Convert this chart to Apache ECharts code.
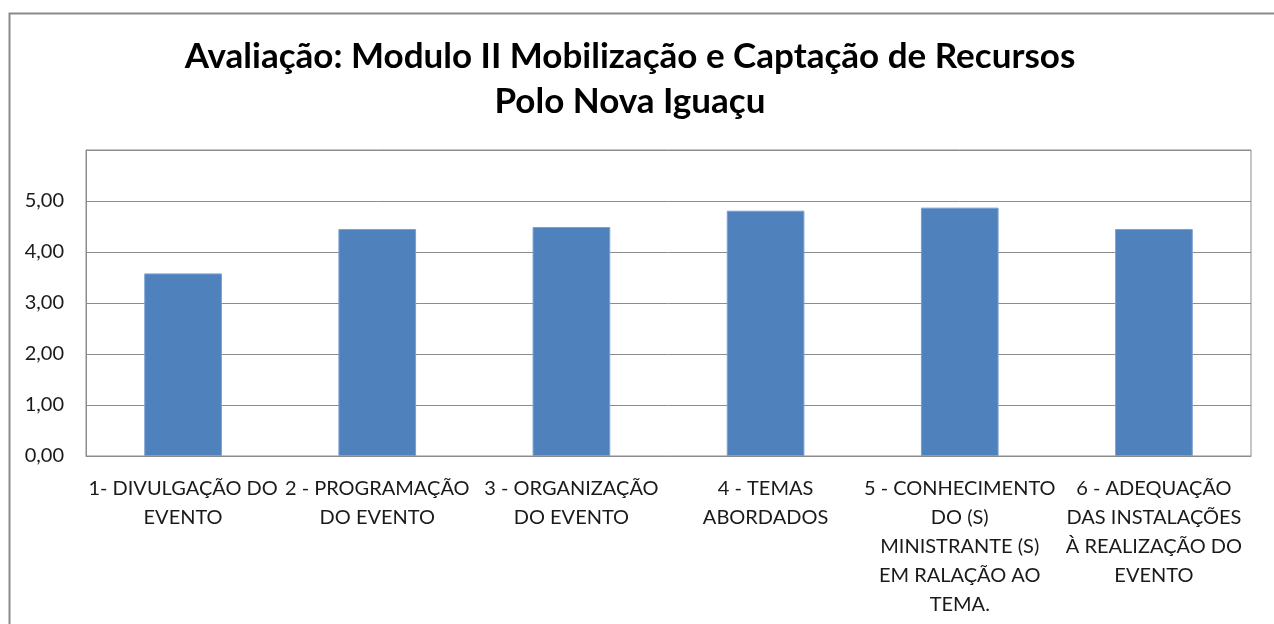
<!DOCTYPE html>
<html><head><meta charset="utf-8">
<script src="https://cdn.jsdelivr.net/npm/echarts@6/dist/echarts.min.js"></script>
<style>html,body{margin:0;padding:0;background:#fff}#c{width:1274px;height:624px}</style>
</head><body><div id="c"></div>
<script>
const titleLines = ['Avaliação: Modulo II Mobilização e Captação de Recursos', 'Polo Nova Iguaçu'];
const categories = [
  '1- DIVULGAÇÃO DO\nEVENTO',
  '2 - PROGRAMAÇÃO\nDO EVENTO',
  '3 - ORGANIZAÇÃO\nDO EVENTO',
  '4 - TEMAS\nABORDADOS',
  '5 - CONHECIMENTO\nDO (S)\nMINISTRANTE (S)\nEM RALAÇÃO AO\nTEMA.',
  '6 - ADEQUAÇÃO\nDAS INSTALAÇÕES\nÀ REALIZAÇÃO DO\nEVENTO'
];
const values = [3.58, 4.45, 4.49, 4.81, 4.87, 4.45];
const yMin = 0, yMax = 6, yStep = 1;

const chart = echarts.init(document.getElementById('c'), null, {renderer: 'canvas'});
const FONT = 'Lato';
chart.setOption({
  animation: false,
  backgroundColor: '#fff',
  graphic: [{
    type: 'rect', left: 7, top: 11,
    shape: {width: 1300, height: 700},
    style: {fill: 'none', stroke: '#8a8a8a', lineWidth: 2}, z: -10
  }],
  title: {
    text: titleLines.join('\n'),
    left: 625, top: 29, textAlign: 'center',
    textStyle: {fontFamily: FONT, fontWeight: 'bold', fontSize: 35, color: '#000', lineHeight: 45}
  },
  grid: {left: 86, right: 23, top: 150, bottom: 168, show: true, borderColor: '#8c8c8c', borderWidth: 1},
  xAxis: {
    type: 'category', data: categories,
    axisLine: {lineStyle: {color: '#8c8c8c', width: 1}},
    axisTick: {show: false},
    axisLabel: {interval: 0, fontFamily: FONT, fontSize: 20, color: '#1a1a1a', lineHeight: 29, margin: 18}
  },
  yAxis: {
    type: 'value', min: yMin, max: yMax, interval: yStep,
    axisLine: {show: true, lineStyle: {color: '#8c8c8c'}},
    axisTick: {show: false},
    splitLine: {lineStyle: {color: '#8c8c8c', width: 1}},
    axisLabel: {
      fontFamily: FONT, fontSize: 20, color: '#1a1a1a', margin: 22,
      formatter: v => v >= yMax ? '' : v.toFixed(2).replace('.', ',')
    }
  },
  series: [{
    type: 'bar', data: values, barWidth: '40%',
    itemStyle: {color: '#4f81bd', borderColor: '#7a9fd0', borderWidth: 1}
  }]
});
</script></body></html>
